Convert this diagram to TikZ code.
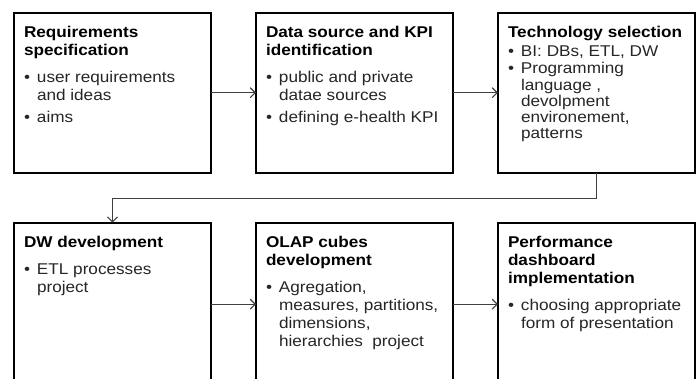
\documentclass[tikz,border=0pt]{standalone}
\usepackage{fontspec}
\setmainfont{Liberation Sans}[FakeStretch=1.1]
\usetikzlibrary{arrows.meta}

% text styles for the stage boxes
\newcommand\stagetitlefont{\fontsize{15.6}{18}\selectfont\bfseries\color{black}}
\newcommand\stagebodyfont{\fontsize{15.6}{18}\selectfont\color{black!85}}
\newcommand\stagetitle[1]{{\noindent\stagetitlefont #1\par}}
\newcommand\stagebullet[1]{{\noindent\stagebodyfont\hangindent=13pt\hangafter=1\makebox[13pt][l]{\textbullet}#1\par}}
\newcommand\stagecontent[1]{\parbox[t]{190pt}{\setlength\parindent{0pt}\setlength\parskip{0pt}#1}}

\tikzset{
  stagebox/.style={draw=black, line width=2pt, fill=white, minimum width=197pt,
    minimum height=160pt, inner sep=0pt, outer sep=0pt, anchor=north west},
  stagetext/.style={anchor=base west, inner sep=0pt, outer sep=0pt},
  flow/.style={draw=black!75, line width=1.1pt,
    -{Straight Barb[length=5pt,width=10pt]}}
}

\begin{document}
\begin{tikzpicture}[x=1pt, y=-1pt]
  \useasboundingbox (0,0) rectangle (697,378);
  \clip (0,0) rectangle (697,378);

  % stage boxes, upper row
  \node[stagebox] (b1) at (14,12.7) {};
  \node[stagebox] (b2) at (256,12.7) {};
  \node[stagebox] (b3) at (498,12.7) {};
  % stage boxes, lower row (run past the lower edge)
  \node[stagebox, minimum height=163pt] (b4) at (14,222.7) {};
  \node[stagebox, minimum height=163pt] (b5) at (256,222.7) {};
  \node[stagebox, minimum height=163pt] (b6) at (498,222.7) {};

  % box contents
  \node[stagetext] (t1) at ([shift={(10,25)}]b1.north west) {\stagecontent{%
    \stagetitle{Requirements\newline specification}\vspace{9pt}%
    \stagebullet{user requirements\newline and ideas}\vspace{4pt}%
    \stagebullet{aims}}};

  \node[stagetext] (t2) at ([shift={(10,25)}]b2.north west) {\stagecontent{%
    \stagetitle{Data source and KPI\newline identification}\vspace{9pt}%
    \stagebullet{public and private\newline datae sources}\vspace{4pt}%
    \stagebullet{defining e-health KPI}}};

  \node[stagetext] (t3) at ([shift={(10,25)}]b3.north west) {\stagecontent{%
    \stagetitle{Technology selection}\vspace{1pt}%
    \stagebullet{BI: DBs, ETL, DW}\vspace{1pt}%
    {\fontsize{15.6}{16.2}\selectfont
    \stagebullet{\fontsize{15.6}{16.2}\selectfont Programming\newline language ,\newline devolpment\newline environement,\newline patterns}}}};

  \node[stagetext] (t4) at ([shift={(10,25)}]b4.north west) {\stagecontent{%
    \stagetitle{DW development}\vspace{9pt}%
    \stagebullet{ETL processes\newline project}}};

  \node[stagetext] (t5) at ([shift={(10,25)}]b5.north west) {\stagecontent{%
    \stagetitle{OLAP cubes\newline development}\vspace{9pt}%
    \stagebullet{Agregation,\newline measures, partitions,\newline dimensions,\newline hierarchies\ \ project}}};

  \node[stagetext] (t6) at ([shift={(10,25)}]b6.north west) {\stagecontent{%
    \stagetitle{Performance\newline dashboard\newline implementation}\vspace{9pt}%
    \stagebullet{choosing appropriate\newline form of presentation}}};

  % connectors
  \draw[flow] (b1.east) -- (b2.west);
  \draw[flow] (b2.east) -- (b3.west);
  \coordinate (turn) at ([shift={(0,25.5)}]b3.south);
  \draw[flow] (b3.south) -- (turn) -| (b4.north);
  \draw[flow] (b4.east) -- (b5.west);
  \draw[flow] (b5.east) -- (b6.west);
\end{tikzpicture}
\end{document}
